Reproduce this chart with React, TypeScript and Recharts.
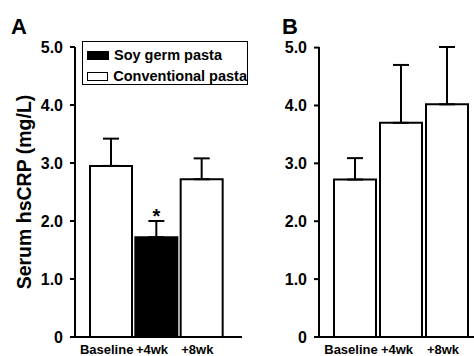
import { BarChart, Bar, XAxis, YAxis, Cell, ErrorBar, LabelList, Label } from 'recharts'

const categories = ['Baseline', '+4wk', '+8wk']

// panel A: soy germ pasta study (middle bar is soy germ pasta)
const meanA = [2.95, 1.72, 2.72]
const semA = [0.47, 0.28, 0.36]
const groupA = ['conv', 'soy', 'conv']
const marksA = ['', '*', '']

// panel B: conventional pasta
const meanB = [2.72, 3.7, 4.02]
const semB = [0.37, 1.0, 0.99]
const groupB = ['conv', 'conv', 'conv']

const yTicks = [0, 1, 2, 3, 4, 5]

const legendItems = [
  { label: 'Soy germ pasta', fill: '#000' },
  { label: 'Conventional pasta', fill: '#fff' },
]

const FONT = '"Liberation Sans", Arial, Helvetica, sans-serif'

const buildData = (means: number[], sem: number[], groups: string[], marks?: string[]) =>
  categories.map((c, i) => ({
    name: c,
    value: means[i],
    err: [0, sem[i]],
    group: groups[i],
    mark: marks ? marks[i] : '',
  }))

const dataA = buildData(meanA, semA, groupA, marksA)
const dataB = buildData(meanB, semB, groupB)

function XTick({ x, y, payload }: any) {
  return (
    <text x={x - 4} y={y + 17} textAnchor="middle" fontSize={13} fontWeight="bold" fill="#000" fontFamily={FONT}>
      {payload.value}
    </text>
  )
}

function Mark({ x, y, width, value }: any) {
  if (!value) return null
  return (
    <text x={x + width / 2} y={y - 14} textAnchor="middle" fontSize={20} fontWeight="bold" fill="#000" fontFamily={FONT}>
      {value}
    </text>
  )
}

function LegendBox() {
  return (
    <div
      style={{
        position: 'absolute',
        left: 82,
        top: 41,
        border: '1px solid #000',
        width: 166,
        height: 44,
        boxSizing: 'border-box',
        padding: '4px 0 0 4px',
        background: '#fff',
        fontFamily: FONT,
        fontWeight: 'bold',
        fontSize: 14.5,
        color: '#000',
      }}
    >
      {legendItems.map((it) => (
        <div key={it.label} style={{ display: 'flex', alignItems: 'center', height: 18, marginBottom: 3 }}>
          <span
            style={{
              display: 'inline-block',
              width: 20,
              height: 7,
              border: '1px solid #000',
              background: it.fill,
              marginRight: 5,
            }}
          />
          <span style={{ whiteSpace: 'nowrap' }}>{it.label}</span>
        </div>
      ))}
    </div>
  )
}

function Panel({ data, width, yWidth, padding, yLabel }: any) {
  return (
    <BarChart width={width} height={356} data={data} margin={{ top: 47, right: 0, bottom: 0, left: 0 }} barCategoryGap={0}>
      <XAxis
        dataKey="name"
        height={19}
        padding={padding}
        tickLine={false}
        tickSize={0}
        tickMargin={0}
        axisLine={{ stroke: '#000', strokeWidth: 2 }}
        tick={<XTick />}
        interval={0}
      />
      <YAxis
        width={yWidth}
        domain={[0, 5]}
        ticks={yTicks}
        interval={0}
        tickFormatter={(v: number) => (v === 0 ? '0' : v.toFixed(1))}
        tickSize={5}
        tickMargin={7}
        tickLine={{ stroke: '#000', strokeWidth: 2 }}
        axisLine={{ stroke: '#000', strokeWidth: 2 }}
        tick={{ fontSize: 16, fontWeight: 'bold', fill: '#000', fontFamily: FONT }}
      >
        {yLabel && (
          <Label
            value={yLabel}
            angle={-90}
            position="insideLeft"
            offset={24}
            style={{ textAnchor: 'middle', fontSize: 19.5, fontWeight: 'bold', fill: '#000', fontFamily: FONT }}
          />
        )}
      </YAxis>
      <Bar dataKey="value" barSize={42} stroke="#000" strokeWidth={2} isAnimationActive={false}>
        {data.map((d: any, i: number) => (
          <Cell key={i} fill={d.group === 'soy' ? '#000' : '#fff'} />
        ))}
        <ErrorBar dataKey="err" width={8} stroke="#000" strokeWidth={2} direction="y" isAnimationActive={false} />
        <LabelList dataKey="mark" content={<Mark />} />
      </Bar>
    </BarChart>
  )
}

export default function App() {
  return (
    <div
      style={{
        position: 'absolute',
        left: 0,
        top: 0,
        width: 474,
        height: 356,
        background: '#fff',
        fontFamily: FONT,
        overflow: 'hidden',
      }}
    >
      <div style={{ position: 'absolute', left: 0, top: 0 }}>
        <Panel data={dataA} width={242} yWidth={75} padding={{ left: 13, right: 18 }} yLabel="Serum hsCRP (mg/L)" />
      </div>
      <div style={{ position: 'absolute', left: 240, top: 0 }}>
        <Panel data={dataB} width={234} yWidth={79} padding={{ left: 13, right: 4 }} />
      </div>
      <LegendBox />
      <div style={{ position: 'absolute', left: 11, top: 14, fontSize: 22, fontWeight: 'bold', color: '#000' }}>A</div>
      <div style={{ position: 'absolute', left: 282, top: 14, fontSize: 22, fontWeight: 'bold', color: '#000' }}>B</div>
    </div>
  )
}
